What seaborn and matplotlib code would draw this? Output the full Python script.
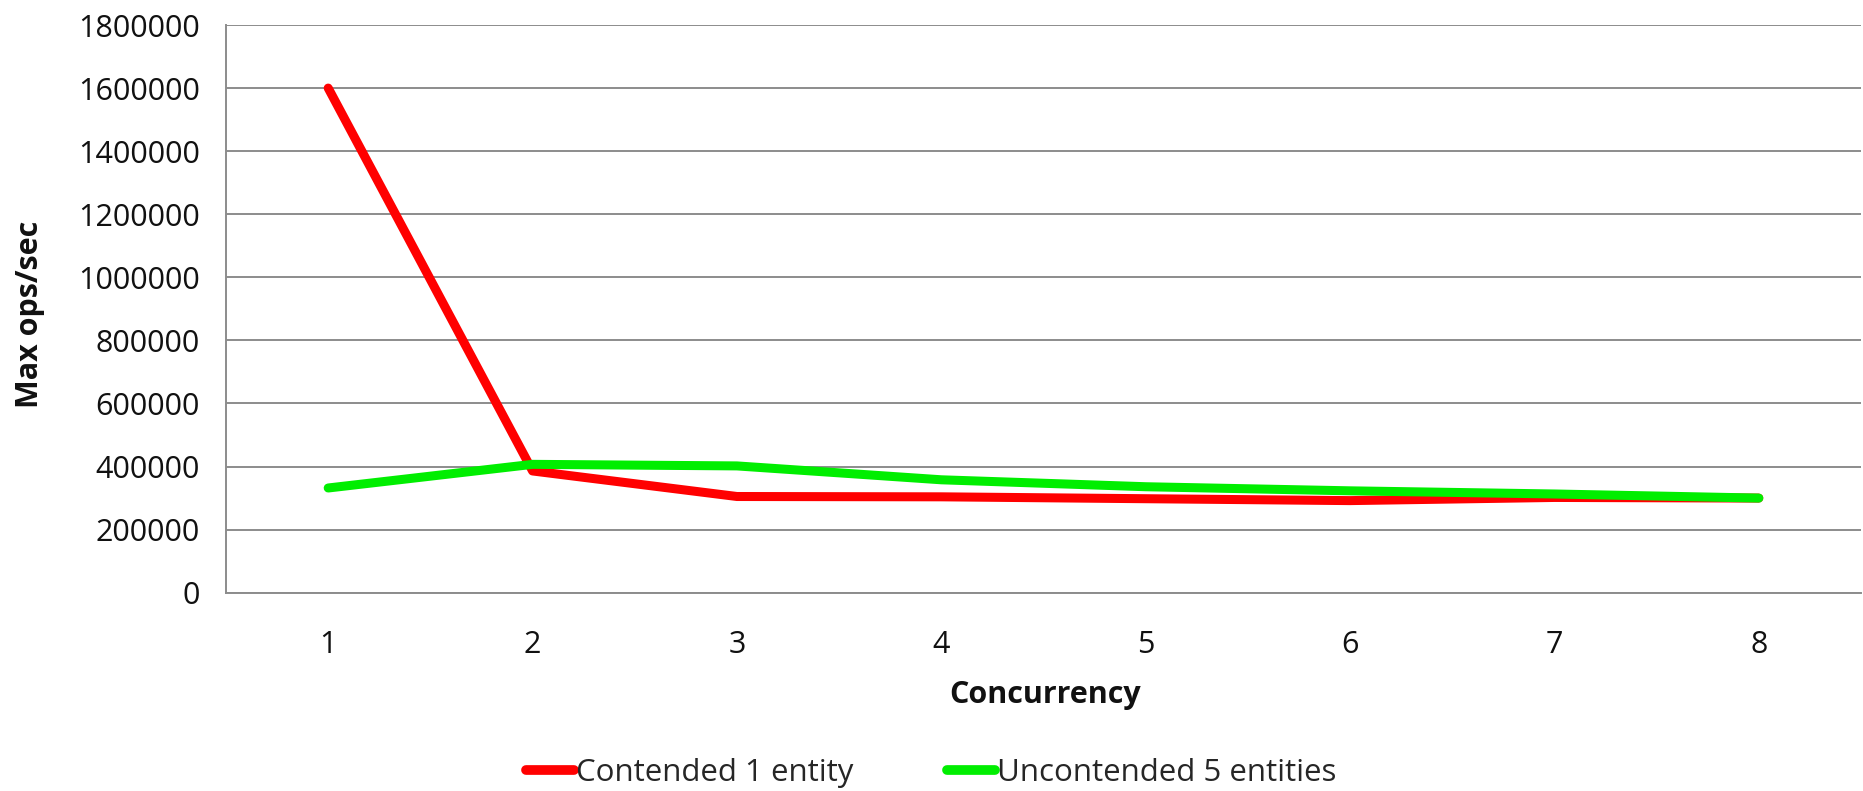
import matplotlib
matplotlib.use("Agg")
import matplotlib.pyplot as plt
import seaborn as sns
import pandas as pd
from matplotlib.ticker import MultipleLocator, FixedLocator, NullFormatter, FuncFormatter

concurrency = [1, 2, 3, 4, 5, 6, 7, 8]
contended_1_entity = [1600000, 386000, 305000, 304000, 298000, 292000, 302000, 300000]
uncontended_5_entities = [332000, 407000, 402000, 358000, 336000, 323000, 313000, 300000]
series_names = ["Contended 1 entity", "Uncontended 5 entities"]
series_colors = ["#ff0000", "#00ee00"]

df = pd.DataFrame({
    "Concurrency": concurrency * 2,
    "ops": contended_1_entity + uncontended_5_entities,
    "series": [series_names[0]] * len(concurrency) + [series_names[1]] * len(concurrency),
})

sns.set_theme(style="white")
plt.rcParams["font.family"] = ["Open Sans", "DejaVu Sans"]

fig = plt.figure(figsize=(18.63, 7.91), dpi=100)
ax = fig.add_axes([226 / 1863, 1 - 592.7 / 791, 1635 / 1863, (592.7 - 25) / 791])

sns.lineplot(data=df, x="Concurrency", y="ops", hue="series", palette=series_colors,
             linewidth=6.5, ax=ax, legend=False, solid_capstyle="round", solid_joinstyle="round")

ax.set_xlim(0.5, 8.5)
ax.set_ylim(0, 1800000)

grid_color = "#8c8c8c"
text_color = "#111111"
ax.yaxis.set_major_locator(MultipleLocator(200000))
ax.yaxis.set_major_formatter(FuncFormatter(lambda v, p: f"{int(v)}"))
ax.grid(axis="y", color=grid_color, linewidth=1.4)
ax.set_axisbelow(True)

# category boundaries carry tick marks, labels sit at the category centres
ax.xaxis.set_major_locator(FixedLocator([i + 0.5 for i in range(0, 9)]))
ax.xaxis.set_major_formatter(NullFormatter())
ax.xaxis.set_minor_locator(FixedLocator(concurrency))
ax.set_xticklabels([str(c) for c in concurrency], minor=True)
ax.tick_params(axis="x", which="major", length=11, width=1.3, color=grid_color, direction="out")
ax.tick_params(axis="x", which="minor", length=0, pad=27, labelsize=22, labelcolor=text_color)
ax.tick_params(axis="y", which="major", length=11, width=1.3, color=grid_color, direction="out",
               pad=8, labelsize=22, labelcolor=text_color)

for side in ["top", "right"]:
    ax.spines[side].set_visible(False)
for side in ["left", "bottom"]:
    ax.spines[side].set_color(grid_color)
    ax.spines[side].set_linewidth(1.4)

ax.set_xlabel("Concurrency", fontsize=22, fontweight="bold", color=text_color, va="center")
ax.xaxis.set_label_coords(0.501, -0.180)
ax.set_ylabel("Max ops/sec", fontsize=22, fontweight="bold", color=text_color, va="center")
ax.yaxis.set_label_coords(-0.12, 0.49)

handles = [plt.Line2D([0], [0], color=c, linewidth=7) for c in series_colors]
fig.legend(handles, series_names, loc="center", bbox_to_anchor=(931 / 1863, 1 - 773 / 791),
           ncol=2, frameon=False, fontsize=22.5, handlelength=1.55, handletextpad=0.05,
           columnspacing=3.0)

fig.savefig("out.png", dpi=100, facecolor="white")
